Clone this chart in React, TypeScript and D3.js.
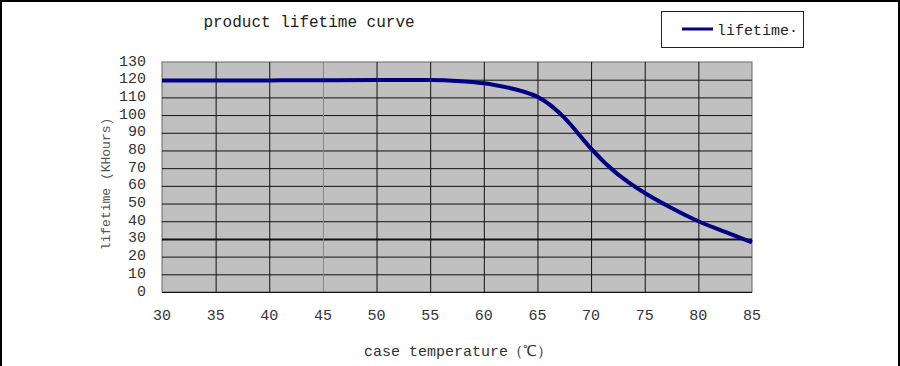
import { useEffect, useRef } from 'react';
import * as d3 from 'd3';

// case temperature (°C) vs lifetime (KHours)
const temps = [30, 35, 40, 45, 50, 55, 57.5, 60, 62.5, 65, 67.5, 70, 72.5, 75, 77.5, 80, 82.5, 85];
const lifetime = [119.5, 119.5, 119.6, 119.7, 119.8, 119.8, 119.3, 118, 115.2, 110.3, 98.5, 81, 66.5, 56, 47.5, 40, 34, 28];
const xTicks = [30, 35, 40, 45, 50, 55, 60, 65, 70, 75, 80, 85];
const yTicks = [0, 10, 20, 30, 40, 50, 60, 70, 80, 90, 100, 110, 120, 130];

const W = 900;
const H = 366;
const FONT = '"Liberation Mono", "DejaVu Sans Mono", monospace';

export default function App() {
  const svgRef = useRef<SVGSVGElement>(null);

  useEffect(() => {
    if (!svgRef.current) return;
    const svg = d3.select(svgRef.current);
    svg.selectAll('*').remove();

    const left = 162, right = 752, top = 62, bottom = 292;
    const x = d3.scaleLinear().domain([30, 85]).range([left, right]);
    const y = d3.scaleLinear().domain([0, 130]).range([bottom, top]);

    svg.append('rect').attr('width', W).attr('height', H).attr('fill', '#fff');
    // outer frame (top / left / right edges)
    svg.append('path')
      .attr('d', `M1,${H} V1 H${W - 1} V${H}`)
      .attr('fill', 'none')
      .attr('stroke', '#000')
      .attr('stroke-width', 2);

    // plot area
    svg.append('rect')
      .attr('x', left).attr('y', top)
      .attr('width', right - left).attr('height', bottom - top)
      .attr('fill', '#c0c0c0')
      .attr('stroke', '#666')
      .attr('stroke-width', 1);

    // grid
    const g = svg.append('g');
    g.selectAll('.hgrid')
      .data(yTicks.filter((d) => d > 0 && d < 130))
      .join('line')
      .attr('x1', left).attr('x2', right)
      .attr('y1', (d) => y(d) + 0.5).attr('y2', (d) => y(d) + 0.5)
      .attr('stroke', '#111')
      .attr('stroke-width', (d) => (d === 30 ? 2 : 1));
    g.selectAll('.vgrid')
      .data(xTicks.filter((d) => d > 30 && d < 85))
      .join('line')
      .attr('x1', (d) => x(d) + 0.5).attr('x2', (d) => x(d) + 0.5)
      .attr('y1', top).attr('y2', bottom)
      .attr('stroke', (d) => (d === 45 ? '#888' : '#111'))
      .attr('stroke-width', 1);
    g.append('line')
      .attr('x1', left).attr('x2', right)
      .attr('y1', bottom + 0.5).attr('y2', bottom + 0.5)
      .attr('stroke', '#111');

    // curve
    const line = d3.line<number>()
      .x((_, i) => x(temps[i]))
      .y((d) => y(d))
      .curve(d3.curveNatural);
    svg.append('path')
      .attr('d', line(lifetime))
      .attr('fill', 'none')
      .attr('stroke', '#000080')
      .attr('stroke-width', 4)
      .attr('stroke-linejoin', 'round');

    // tick labels
    svg.selectAll('.ylab')
      .data(yTicks)
      .join('text')
      .attr('x', 146).attr('y', (d) => y(d))
      .attr('text-anchor', 'end')
      .attr('dominant-baseline', 'central')
      .attr('font-family', FONT).attr('font-size', 15)
      .attr('fill', '#333')
      .text((d) => d);
    svg.selectAll('.xlab')
      .data(xTicks)
      .join('text')
      .attr('x', (d) => x(d)).attr('y', 316)
      .attr('text-anchor', 'middle')
      .attr('dominant-baseline', 'central')
      .attr('font-family', FONT).attr('font-size', 15)
      .attr('fill', '#333')
      .text((d) => d);

    // axis titles
    svg.append('text')
      .attr('x', 458).attr('y', 352)
      .attr('text-anchor', 'middle')
      .attr('dominant-baseline', 'central')
      .attr('font-family', FONT).attr('font-size', 15)
      .attr('fill', '#333')
      .text('case temperature（℃）');
    svg.append('text')
      .attr('transform', 'translate(106,184) rotate(-90)')
      .attr('text-anchor', 'middle')
      .attr('dominant-baseline', 'central')
      .attr('font-family', FONT).attr('font-size', 13)
      .attr('fill', '#555')
      .text('lifetime (KHours)');

    // title
    svg.append('text')
      .attr('x', 309).attr('y', 23)
      .attr('text-anchor', 'middle')
      .attr('dominant-baseline', 'central')
      .attr('font-family', FONT).attr('font-size', 16)
      .attr('fill', '#222')
      .text('product lifetime curve');

    // legend
    svg.append('rect')
      .attr('x', 661.5).attr('y', 11.5)
      .attr('width', 142).attr('height', 36)
      .attr('fill', '#fff')
      .attr('stroke', '#222');
    svg.append('line')
      .attr('x1', 682).attr('x2', 713)
      .attr('y1', 29).attr('y2', 29)
      .attr('stroke', '#000080')
      .attr('stroke-width', 3);
    svg.append('text')
      .attr('x', 717).attr('y', 31)
      .attr('dominant-baseline', 'central')
      .attr('font-family', FONT).attr('font-size', 15)
      .attr('fill', '#222')
      .text('lifetime·');
  }, []);

  return (
    <div style={{ position: 'fixed', left: 0, top: 0 }}>
      <svg ref={svgRef} width={W} height={H} style={{ display: 'block' }} />
    </div>
  );
}
